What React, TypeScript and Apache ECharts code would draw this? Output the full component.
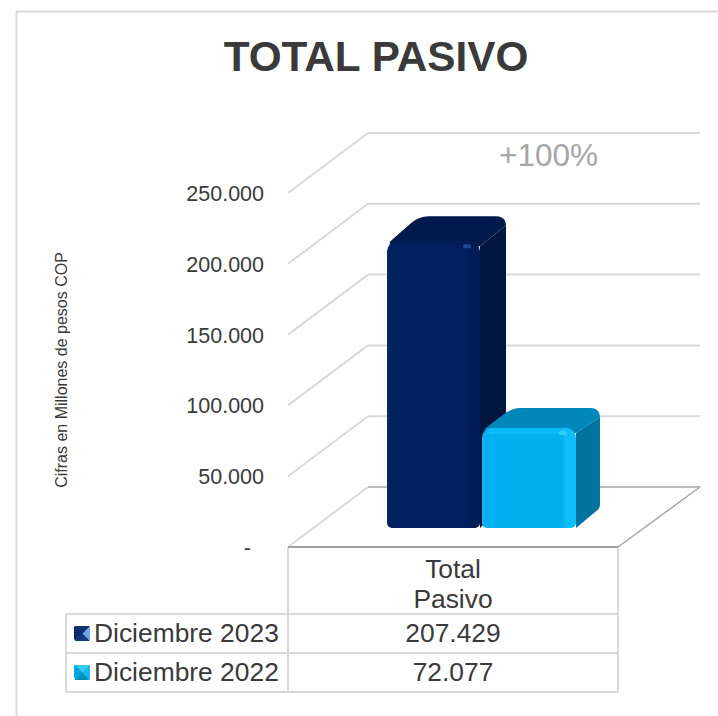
import React, { useEffect, useRef } from "react";
import * as echarts from "echarts";

const TITLE = "TOTAL PASIVO";
const NOTE = "+100%";
const AXIS_NAME = "Cifras en Millones de pesos COP";
const categories = ["Total\nPasivo"];
const seriesNames = ["Diciembre 2023", "Diciembre 2022"];
const values2023 = [207429];
const values2022 = [72077];
const yTicks = [0, 50000, 100000, 150000, 200000, 250000];

const FONT = "Liberation Sans, Arial, sans-serif";
const TEXT = "#3a3a3a";
const GRID = "#d9d9d9";

const fmt = (v: number) => String(v).replace(/\B(?=(\d{3})+(?!\d))/g, ".");

// Round polygon corners with short quadratic runs, giving a plain point list.
function rounded(points: number[][], radii: number[]) {
  const out: number[][] = [];
  const n = points.length;
  points.forEach((p, i) => {
    const r = radii[i] ?? 0;
    if (!r) { out.push(p); return; }
    const a = points[(i + n - 1) % n];
    const b = points[(i + 1) % n];
    const la = Math.hypot(a[0] - p[0], a[1] - p[1]);
    const lb = Math.hypot(b[0] - p[0], b[1] - p[1]);
    const s = [p[0] + ((a[0] - p[0]) * r) / la, p[1] + ((a[1] - p[1]) * r) / la];
    const e = [p[0] + ((b[0] - p[0]) * r) / lb, p[1] + ((b[1] - p[1]) * r) / lb];
    for (let k = 0; k <= 6; k++) {
      const t = k / 6;
      out.push([
        (1 - t) * (1 - t) * s[0] + 2 * t * (1 - t) * p[0] + t * t * e[0],
        (1 - t) * (1 - t) * s[1] + 2 * t * (1 - t) * p[1] + t * t * e[1],
      ]);
    }
  });
  return out;
}

const DEPTH_X = 80;
const DEPTH_Y = 60;
const RIGHT_END = 700;

function wallItem(params: any, api: any) {
  const v = api.value(1);
  const y = api.coord([0, v])[1];
  const cs = params.coordSys;
  const x0 = cs.x;
  const x1 = cs.x + DEPTH_X;
  const by = y - DEPTH_Y;
  const children: any[] = [
    { type: "polyline", shape: { points: [[x0, y], [x1, by]] }, style: { stroke: GRID, lineWidth: 2, fill: "none" } },
    { type: "polyline", shape: { points: [[x1, by], [RIGHT_END, by]] }, style: { stroke: v === 0 ? "#bdbdbd" : GRID, lineWidth: 2, fill: "none" } },
  ];
  if (v === 0) {
    const fx = cs.x + cs.width;
    children.push(
      { type: "polyline", shape: { points: [[x0, y], [fx, y]] }, style: { stroke: "#a0a0a0", lineWidth: 2, fill: "none" } },
      { type: "polyline", shape: { points: [[fx, y], [RIGHT_END, by]] }, style: { stroke: "#a6a6a6", lineWidth: 1.5, fill: "none" } },
    );
  }
  return { type: "group", children };
}

function barItem(g: any) {
  return (_: any, api: any) => {
    const cx = api.coord([0, 0])[0];
    const base = api.coord([0, 0])[1];
    const top = api.coord([0, api.value(1)])[1];
    const x0 = cx + g.left;
    const x1 = cx + g.right;
    const fb = base - 19;
    const bt = top - 37;
    const ft = bt + g.dy;
    const rx = x1 + g.dx;
    const side = rounded(
      [[x1, ft + 5], [rx, bt + 9], [rx, fb - g.dy], [x1, fb]],
      [0, 0, 4, 0],
    );
    const topFace = rounded(
      [[x0, ft + 3], [x0 + g.dx + 6, bt], [rx, bt], [rx, bt + 9], [x1, ft + 5]],
      [6, 10, 10, 0, 0],
    );
    return {
      type: "group",
      children: [
        { type: "polygon", shape: { points: side }, style: { fill: g.side } },
        { type: "polygon", shape: { points: topFace }, style: { fill: g.top } },
        {
          type: "rect",
          shape: { x: x0, y: ft, width: x1 - x0, height: fb - ft, r: [10, 10, 5, 5] },
          style: {
            fill: {
              type: "linear", x: 0, y: 0, x2: 1, y2: 0,
              colorStops: [
                { offset: 0, color: g.edge },
                { offset: 0.03, color: g.front },
                { offset: 0.85, color: g.front },
                { offset: 0.89, color: g.bevel },
                { offset: 1, color: g.bevel },
              ],
            },
          },
        },
        {
          type: "rect",
          shape: { x: x0 + 6, y: ft, width: x1 - x0 - 12, height: 6, r: 2 },
          style: { fill: g.bevel, opacity: 0.8 },
        },
        {
          type: "rect",
          shape: { x: x1 - 17, y: ft + 3, width: 8, height: 4, r: 2 },
          style: { fill: g.glint },
        },
      ],
    };
  };
}

const darkBar = { left: -66, right: 27, dx: 26, dy: 25, front: "#00205f", bevel: "#001d57", edge: "#0a2a68", side: "#001540", top: "#001a4e", glint: "#1f4a90" };
const cyanBar = { left: 29, right: 123, dx: 24, dy: 20, front: "#00b0f0", bevel: "#10bdfd", edge: "#10b8f4", side: "#00739f", top: "#0088b8", glint: "#35cfff" };

function legendKey(x: number, y: number, s: number, c: string[]) {
  const m = [x + s / 2, y + s / 2];
  const tl = [x, y], tr = [x + s, y], br = [x + s, y + s], bl = [x, y + s];
  const tri = (a: number[], b: number[], fill: string) => ({
    type: "polygon", z: 20, shape: { points: [a, b, m] }, style: { fill },
  });
  return [tri(tl, bl, c[0]), tri(tl, tr, c[1]), tri(bl, br, c[2]), tri(tr, br, c[3])];
}

const hLine = (x1: number, x2: number, y: number) => ({
  type: "line", z: 1, shape: { x1, y1: y, x2, y2: y }, style: { stroke: GRID, lineWidth: 2 },
});
const vLine = (x: number, y1: number, y2: number) => ({
  type: "line", z: 1, shape: { x1: x, y1, x2: x, y2 }, style: { stroke: GRID, lineWidth: 2 },
});

export default function App() {
  const ref = useRef<HTMLDivElement>(null);
  useEffect(() => {
    document.body.style.margin = "0";
    const chart = echarts.init(ref.current!, null, { renderer: "svg" });
    const valueText = (t: string, y: number) => ({
      type: "text", z: 20, x: 453, y,
      style: { text: t, font: `26.4px ${FONT}`, fill: TEXT, textAlign: "center", textVerticalAlign: "middle" },
    });
    chart.setOption({
      animation: false,
      backgroundColor: "#ffffff",
      title: {
        text: TITLE, left: 371, top: 30, textAlign: "center",
        textStyle: { fontFamily: FONT, fontSize: 42.3, fontWeight: "bold", color: TEXT },
      },
      legend: {
        data: seriesNames, orient: "vertical", left: 74, top: 620,
        itemWidth: 15, itemHeight: 13, itemGap: 12.6, selectedMode: false, icon: "rect",
        padding: 0,
        textStyle: { fontFamily: FONT, fontSize: 26.4, color: TEXT },
      },
      grid: { left: 288, top: 193, width: 330, height: 354, containLabel: false },
      xAxis: {
        type: "category", data: categories,
        axisLine: { show: false }, axisTick: { show: false },
        axisLabel: { fontFamily: FONT, fontSize: 26.4, lineHeight: 30, color: TEXT, margin: 7, interval: 0 },
      },
      yAxis: {
        type: "value", min: 0, max: 250000, interval: 50000,
        name: AXIS_NAME, nameLocation: "middle", nameRotate: 90, nameGap: 219,
        nameTextStyle: { fontFamily: FONT, fontSize: 16, color: TEXT },
        axisLine: { show: false }, axisTick: { show: false }, splitLine: { show: false },
        axisLabel: {
          margin: 24, fontFamily: FONT, fontSize: 21.5, color: TEXT, padding: [2, 0, 0, 0],
          formatter: (v: number) => (v === 0 ? "{dash|-}" : fmt(v)),
          rich: { dash: { fontFamily: FONT, fontSize: 21.5, color: TEXT, padding: [0, 13, 0, 0] } },
        },
      },
      series: [
        { type: "custom", name: "walls", silent: true, z: 1, renderItem: wallItem, data: yTicks.map((v) => [0, v]), encode: { x: 0, y: 1 } },
        { type: "custom", name: seriesNames[0], silent: true, z: 2, renderItem: barItem(darkBar), itemStyle: { color: "#00205f" }, data: values2023.map((v, i) => [i, v]), encode: { x: 0, y: 1 } },
        { type: "custom", name: seriesNames[1], silent: true, z: 3, renderItem: barItem(cyanBar), itemStyle: { color: "#00b0f0" }, data: values2022.map((v, i) => [i, v]), encode: { x: 0, y: 1 } },
      ],
      graphic: [
        hLine(16, 718, 11.5),
        vLine(16.5, 11, 716),
        hLine(66, 618, 614),
        hLine(66, 618, 653),
        hLine(66, 618, 692),
        vLine(66, 614, 692),
        vLine(288, 547, 692),
        vLine(618, 547, 692),
        { type: "text", z: 20, x: 499, y: 155, style: { text: NOTE, font: `31.5px ${FONT}`, fill: "#a6a6a6", textVerticalAlign: "middle" } },
        valueText(fmt(values2023[0]), 633),
        valueText(fmt(values2022[0]), 672),
        ...legendKey(75, 626, 15, ["#0c2d6e", "#12306f", "#14397f", "#6ea6ee"]),
        ...legendKey(75, 665, 15, ["#00a4da", "#38c9f2", "#0090c0", "#1fb7ea"]),
      ],
    });
    return () => chart.dispose();
  }, []);
  return <div ref={ref} style={{ width: 718, height: 716 }} />;
}
